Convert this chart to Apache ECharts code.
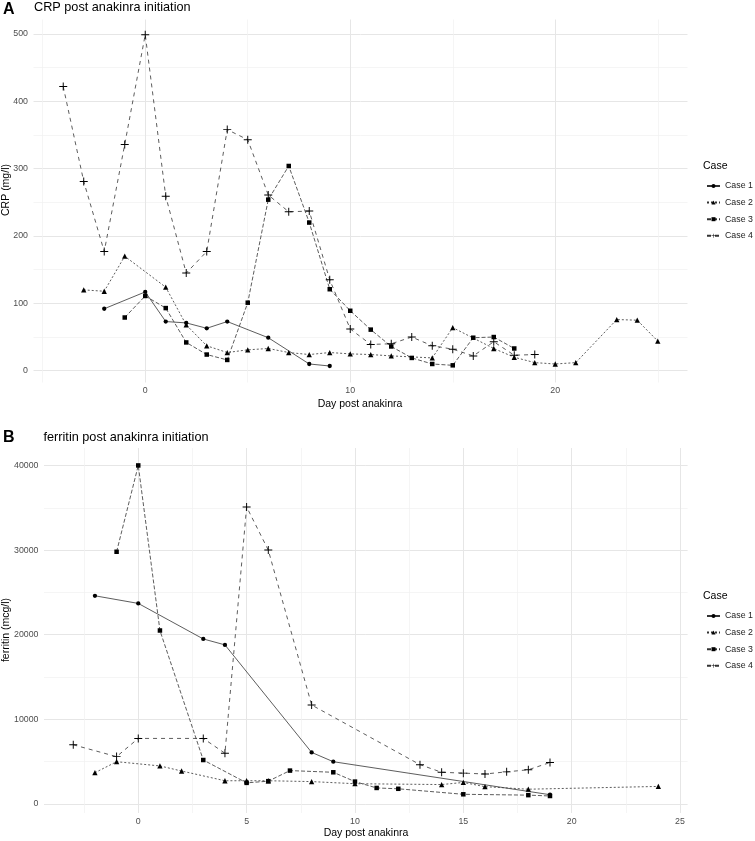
<!DOCTYPE html>
<html><head><meta charset="utf-8">
<script src="https://cdn.jsdelivr.net/npm/echarts@6/dist/echarts.min.js"></script>
<style>html,body{margin:0;padding:0;background:#fff}#c{width:755px;height:841px}</style>
</head><body><div id="c"></div>
<script>
const caseNames = ['Case 1', 'Case 2', 'Case 3', 'Case 4'];

// Panel A: CRP (mg/l)
const crpDays1 = [-2, 0, 1, 2, 3, 4, 6, 8, 9];
const crpVals1 = [92, 117, 73, 71, 63, 73, 49, 10, 7];
const crpDays2 = [-3, -2, -1, 1, 2, 3, 4, 5, 6, 7, 8, 9, 10, 11, 12, 14, 15, 17, 18, 19, 20, 21, 23, 24, 25];
const crpVals2 = [120, 118, 170, 124, 68, 37, 27, 31, 33, 27, 24, 27, 25, 24, 22, 19, 64, 33, 20, 12, 10, 12, 76, 75, 44];
const crpDays3 = [-1, 0, 1, 2, 3, 4, 5, 6, 7, 8, 9, 10, 11, 12, 13, 14, 15, 16, 17, 18];
const crpVals3 = [79, 111, 93, 42, 24, 16, 101, 254, 304, 220, 121, 89, 61, 36, 19, 10, 8, 49, 50, 33];
const crpDays4 = [-4, -3, -2, -1, 0, 1, 2, 3, 4, 5, 6, 7, 8, 9, 10, 11, 12, 13, 14, 15, 16, 17, 18, 19];
const crpVals4 = [422, 281, 177, 336, 499, 259, 145, 177, 358, 343, 261, 236, 237, 135, 62, 39, 40, 50, 37, 32, 22, 43, 23, 24];

// Panel B: ferritin (mcg/l)
const ferDays1 = [-2, 0, 3, 4, 8, 9, 19];
const ferVals1 = [24600, 23700, 19500, 18800, 6100, 5000, 1100];
const ferDays2 = [-2, -1, 1, 2, 4, 5, 6, 8, 10, 14, 15, 16, 18, 24];
const ferVals2 = [3700, 5000, 4500, 3900, 2750, 2750, 2750, 2650, 2400, 2300, 2550, 2050, 1750, 2080];
const ferDays3 = [-1, 0, 1, 3, 5, 6, 7, 9, 10, 11, 12, 15, 18, 19];
const ferVals3 = [29800, 40000, 20500, 5200, 2500, 2700, 3950, 3750, 2650, 1900, 1800, 1150, 1050, 950];
const ferDays4 = [-3, -1, 0, 3, 4, 5, 6, 8, 13, 14, 15, 16, 17, 18, 19];
const ferVals4 = [7000, 5600, 7750, 7750, 6000, 35100, 30000, 11700, 4650, 3750, 3650, 3550, 3800, 4050, 4900];

// Axis ticks
const crpXMajor = [0, 10, 20];
const crpXMinor = [-5, 5, 15, 25];
const crpYMajor = [0, 100, 200, 300, 400, 500];
const crpYMinor = [50, 150, 250, 350, 450];
const ferXMajor = [0, 5, 10, 15, 20, 25];
const ferXMinor = [-2.5, 2.5, 7.5, 12.5, 17.5, 22.5];
const ferYMajor = [0, 10000, 20000, 30000, 40000];
const ferYMinor = [5000, 15000, 25000, 35000];

const FONT = '"Liberation Sans", Arial, sans-serif';
const PLUS = 'path://M-0.12,-1 L0.12,-1 L0.12,-0.12 L1,-0.12 L1,0.12 L0.12,0.12 L0.12,1 L-0.12,1 L-0.12,0.12 L-1,0.12 L-1,-0.12 L-0.12,-0.12 Z';
const symbols = ['circle', 'triangle', 'rect', PLUS];
const symSizes = [4.3, 5.3, 4.5, 8];
const dashes = ['solid', [2, 2], [4, 2], [4, 4]];

function zip(d, v) { return d.map((x, i) => [x, v[i]]); }

function mkSeries(idx, gi, days, vals) {
  return {
    type: 'line', name: caseNames[idx],
    xAxisIndex: gi * 2, yAxisIndex: gi * 2,
    data: zip(days, vals),
    symbol: symbols[idx], symbolSize: symSizes[idx], showSymbol: true,
    lineStyle: { color: '#333', width: 0.8, type: dashes[idx] },
    itemStyle: { color: '#000', borderWidth: 0 },
    emphasis: { disabled: true },
    animation: false, silent: true
  };
}

function xAx(gi, min, max, vals, major) {
  return {
    type: 'value', gridIndex: gi, min: min, max: max,
    position: major ? 'bottom' : 'top',
    axisLine: { show: false },
    axisTick: { show: false, customValues: vals },
    axisLabel: major ? { show: true, customValues: vals, margin: 4, color: '#4d4d4d', fontSize: 8.8, fontFamily: FONT, formatter: v => String(v) } : { show: false },
    splitLine: { show: true, lineStyle: { color: major ? '#e6e6e6' : '#f0f0f0', width: major ? 1 : 0.7 } }
  };
}
function yAx(gi, min, max, vals, major) {
  return {
    type: 'value', gridIndex: gi, min: min, max: max,
    position: major ? 'left' : 'right',
    axisLine: { show: false },
    axisTick: { show: false, customValues: vals },
    axisLabel: major ? { show: true, customValues: vals, margin: 5.5, color: '#4d4d4d', fontSize: 8.8, fontFamily: FONT, formatter: v => String(v) } : { show: false },
    splitLine: { show: true, lineStyle: { color: major ? '#e6e6e6' : '#f0f0f0', width: major ? 1 : 0.7 } }
  };
}

function legendAt(top) {
  return {
    data: caseNames, orient: 'vertical', left: 706, top: top, padding: 0,
    itemWidth: 13, itemHeight: 5, itemGap: 7.6, selectedMode: false,
    textStyle: { fontSize: 8.8, fontFamily: FONT, color: '#222', lineHeight: 8 }
  };
}

function txt(x, y, text, font, opts) {
  return Object.assign({
    type: 'text', x: x, y: y, silent: true,
    style: { text: text, font: font, fill: '#000', align: 'left', verticalAlign: 'middle' }
  }, opts || {});
}

const chart = echarts.init(document.getElementById('c'), null, { renderer: 'canvas' });
chart.setOption({
  backgroundColor: '#fff',
  animation: false,
  textStyle: { fontFamily: FONT },
  grid: [
    { left: 33.5, top: 19.5, width: 654, height: 363, containLabel: false },
    { left: 44, top: 448, width: 643.6, height: 365, containLabel: false }
  ],
  xAxis: [
    xAx(0, -5.45, 26.45, crpXMajor, true), xAx(0, -5.45, 26.45, crpXMinor, false),
    xAx(1, -4.35, 25.35, ferXMajor, true), xAx(1, -4.35, 25.35, ferXMinor, false)
  ],
  yAxis: [
    yAx(0, -17.5, 521.5, crpYMajor, true), yAx(0, -17.5, 521.5, crpYMinor, false),
    yAx(1, -1060, 42060, ferYMajor, true), yAx(1, -1060, 42060, ferYMinor, false)
  ],
  legend: [legendAt(181.5), legendAt(611.5)],
  series: [
    mkSeries(0, 0, crpDays1, crpVals1), mkSeries(1, 0, crpDays2, crpVals2),
    mkSeries(2, 0, crpDays3, crpVals3), mkSeries(3, 0, crpDays4, crpVals4),
    mkSeries(0, 1, ferDays1, ferVals1), mkSeries(1, 1, ferDays2, ferVals2),
    mkSeries(2, 1, ferDays3, ferVals3), mkSeries(3, 1, ferDays4, ferVals4)
  ],
  graphic: [
    txt(3, 10, 'A', 'bold 16px ' + FONT),
    txt(34, 7, 'CRP post anakinra initiation', '12.7px ' + FONT),
    txt(3, 437.5, 'B', 'bold 16px ' + FONT),
    txt(43.5, 437, 'ferritin post anakinra initiation', '12.7px ' + FONT),
    txt(360, 404, 'Day post anakinra', '10.5px ' + FONT, { style: { text: 'Day post anakinra', font: '10.5px ' + FONT, fill: '#000', align: 'center', verticalAlign: 'middle' } }),
    txt(366, 833, 'Day post anakinra', '10.5px ' + FONT, { style: { text: 'Day post anakinra', font: '10.5px ' + FONT, fill: '#000', align: 'center', verticalAlign: 'middle' } }),
    txt(6, 190, 'CRP (mg/l)', '10.5px ' + FONT, { rotation: Math.PI / 2, style: { text: 'CRP (mg/l)', font: '10.5px ' + FONT, fill: '#000', align: 'center', verticalAlign: 'middle' } }),
    txt(6, 630, 'ferritin (mcg/l)', '10.5px ' + FONT, { rotation: Math.PI / 2, style: { text: 'ferritin (mcg/l)', font: '10.5px ' + FONT, fill: '#000', align: 'center', verticalAlign: 'middle' } }),
    txt(703, 166, 'Case', '10.5px ' + FONT),
    txt(703, 595.7, 'Case', '10.5px ' + FONT)
  ]
});
</script>
</body></html>
